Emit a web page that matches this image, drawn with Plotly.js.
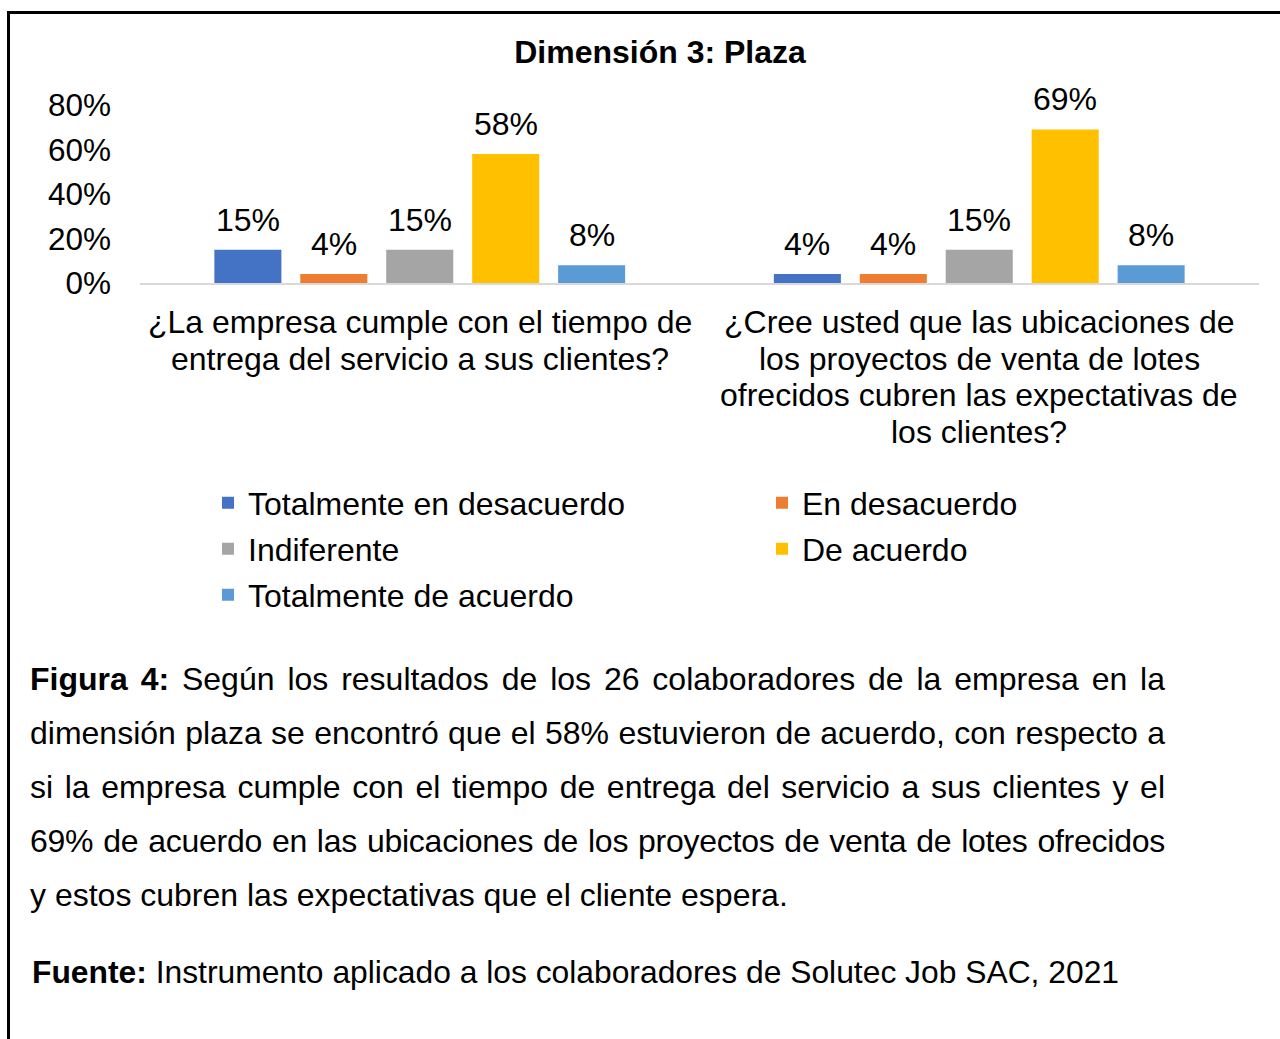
<!DOCTYPE html>
<html>
<head>
<meta charset="utf-8">
<script src="https://cdn.plot.ly/plotly-3.0.1.min.js"></script>
<style>
  html, body { margin: 0; padding: 0; background: #fff; }
  body { width: 1280px; height: 1039px; position: relative; overflow: hidden; font-family: "Liberation Sans", Arial, sans-serif; }
  #frame { position: absolute; left: 7px; top: 11px; width: 1290px; height: 1100px; border-left: 3px solid #000; border-top: 3px solid #000; box-sizing: border-box; }
  #chart { position: absolute; left: 0; top: 0; width: 1280px; height: 1039px; }
  #caption { position: absolute; left: 30px; top: 652px; width: 1135px; font-size: 32px; color: #000; }
  #caption .ln { height: 54px; line-height: 54px; white-space: nowrap; }
  #caption .j { text-align: justify; text-align-last: justify; white-space: normal; }
  #caption .tight { letter-spacing: -0.25px; }
  #source { position: absolute; left: 32px; top: 952px; font-size: 31.8px; color: #000; line-height: 40px; }
</style>
</head>
<body>
<div id="frame"></div>
<div id="chart"></div>
<div id="caption">
  <div class="ln j"><b>Figura 4:</b> Según los resultados de los 26 colaboradores de la empresa en la</div>
  <div class="ln j">dimensión plaza se encontró que el 58% estuvieron de acuerdo, con respecto a</div>
  <div class="ln j">si la empresa cumple con el tiempo de entrega del servicio a sus clientes y el</div>
  <div class="ln j tight">69% de acuerdo en las ubicaciones de los proyectos de venta de lotes ofrecidos</div>
  <div class="ln">y estos cubren las expectativas que el cliente espera.</div>
</div>
<div id="source"><b>Fuente:</b> Instrumento aplicado a los colaboradores de Solutec Job SAC, 2021</div>
<script>
const categories = [
  "¿La empresa cumple con el tiempo de entrega del servicio a sus clientes?",
  "¿Cree usted que las ubicaciones de los proyectos de venta de lotes ofrecidos cubren las expectativas de los clientes?"
];
const categoryLines = [
  ["¿La empresa cumple con el tiempo de", "entrega del servicio a sus clientes?"],
  ["¿Cree usted que las ubicaciones de", "los proyectos de venta de lotes", "ofrecidos cubren las expectativas de", "los clientes?"]
];
const seriesNames = ["Totalmente en desacuerdo", "En desacuerdo", "Indiferente", "De acuerdo", "Totalmente de acuerdo"];
const totalmenteEnDesacuerdo = [0.15, 0.04];
const enDesacuerdo = [0.04, 0.04];
const indiferente = [0.15, 0.15];
const deAcuerdo = [0.58, 0.69];
const totalmenteDeAcuerdo = [0.08, 0.08];
const yTicks = [0, 0.2, 0.4, 0.6, 0.8];

const seriesValues = [totalmenteEnDesacuerdo, enDesacuerdo, indiferente, deAcuerdo, totalmenteDeAcuerdo];
const colors = ["#4472C4", "#ED7D31", "#A5A5A5", "#FFC000", "#5B9BD5"];
const legendIds = ["legend", "legend2", "legend3", "legend4", "legend5"];
// legend entry placement in page pixels: [left x, row centre y]
const legendPos = [[208, 503], [762, 503], [208, 549], [762, 549], [208, 595]];

const font = "Liberation Sans, Arial, sans-serif";
const txt = "#000";

const H = 1039, W = 1280;
const M = {l: 140, r: 21, t: 105, b: H - 283};
const plotW = W - M.l - M.r, plotH = H - M.t - M.b;
const bargap = 0.232, bargroupgap = 0.22;
const slot = (1 - bargap) / seriesNames.length;

const traces = seriesNames.map((name, i) => ({
  type: "bar",
  name: name,
  x: categories,
  y: seriesValues[i],
  marker: {color: colors[i]},
  cliponaxis: false,
  hoverinfo: "skip",
  legend: legendIds[i]
}));

const annotations = [];
// data labels above each bar
seriesValues.forEach((vals, i) => {
  vals.forEach((v, j) => {
    annotations.push({
      xref: "x", yref: "y",
      x: j + (i - (seriesNames.length - 1) / 2) * slot,
      y: v,
      text: Math.round(v * 100) + "%",
      showarrow: false,
      xanchor: "center", yanchor: "bottom", yshift: 10,
      font: {size: 32, color: txt, family: font}
    });
  });
});
// category labels, one annotation per line
categoryLines.forEach((lines, j) => {
  lines.forEach((line, k) => {
    annotations.push({
      xref: "x", yref: "paper",
      x: j, y: 0,
      text: line,
      showarrow: false,
      xanchor: "center", yanchor: "middle", yshift: -(39 + k * 36.7),
      font: {size: 32, color: txt, family: font}
    });
  });
});

function legendAt(i) {
  const [px, py] = legendPos[i];
  return {
    orientation: "v",
    xref: "paper", yref: "paper",
    x: (px - M.l) / plotW,
    y: (H - M.b - py) / plotH,
    xanchor: "left", yanchor: "middle",
    font: {size: 32, color: txt, family: font},
    bgcolor: "rgba(0,0,0,0)",
    borderwidth: 0
  };
}

const layout = {
  width: W, height: H,
  paper_bgcolor: "rgba(0,0,0,0)",
  plot_bgcolor: "rgba(0,0,0,0)",
  margin: Object.assign({pad: 0}, M),
  font: {family: font, color: txt},
  title: {
    text: "<b>Dimensión 3: Plaza</b>",
    font: {size: 32, color: txt, family: font},
    x: 660 / W, xanchor: "center", xref: "container",
    y: 1 - 52 / H, yanchor: "middle", yref: "container"
  },
  barmode: "group",
  bargap: bargap,
  bargroupgap: bargroupgap,
  xaxis: {
    showline: true, linecolor: "#d9d9d9", linewidth: 2,
    ticks: "", showgrid: false, zeroline: false,
    showticklabels: false,
    automargin: false
  },
  yaxis: {
    range: [0, 0.8],
    tickvals: yTicks,
    tickformat: ".0%",
    showgrid: false, zeroline: false, showline: false, ticks: "",
    tickfont: {size: 31.5, color: txt, family: font},
    ticklabelstandoff: 28,
    automargin: false
  },
  annotations: annotations,
  showlegend: true
};
legendIds.forEach((id, i) => { layout[id] = legendAt(i); });

Plotly.newPlot("chart", traces, layout, {staticPlot: true, displayModeBar: false});
</script>
</body>
</html>
